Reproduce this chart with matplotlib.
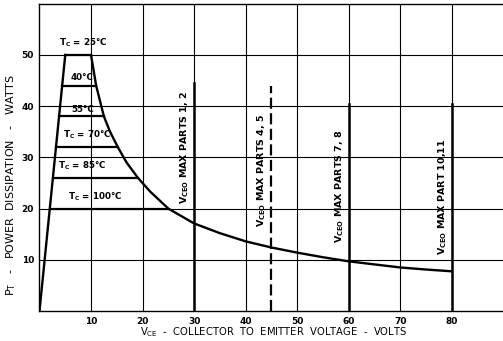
import matplotlib
matplotlib.use("Agg")
import matplotlib.pyplot as plt

# safe operating area
ramp_v = [0, 5]
ramp_p = [0, 50]
curve_v = [10, 11, 12.5, 13.7, 15.2, 16.9, 19.1, 21.5, 25, 30, 35, 40, 45, 50, 55, 60, 65, 70, 75, 80]
curve_p = [50, 44, 38, 35, 32, 29, 26, 23.3, 20, 17.1, 15.2, 13.6, 12.4, 11.4, 10.5, 9.7, 9.1, 8.5, 8.1, 7.75]

# case temperature steps
tc_labels = ["T$_\\mathregular{C}$ = 25°C", "40°C", "55°C", "T$_\\mathregular{C}$ = 70°C",
             "T$_\\mathregular{C}$ = 85°C", "T$_\\mathregular{C}$ = 100°C"]
tc_p = [50, 44, 38, 32, 26, 20]
tc_vleft = [5, 4.4, 3.8, 3.2, 2.6, 2.0]
tc_vright = [10, 11, 12.5, 15.2, 19.1, 25]
tc_label_x = [8.5, 8.2, 8.3, 9.3, 8.4, 10.9]
tc_label_y = [52.3, 45.6, 39.4, 34.4, 28.3, 22.3]

# VCEO limits
vceo_v = [30, 45, 60, 80]
vceo_top = [44.5, 44, 40.5, 40.5]
vceo_style = ["-", "--", "-", "-"]
vceo_text = ["V$_\\mathregular{CEO}$ MAX PARTS 1, 2", "V$_\\mathregular{CEO}$ MAX PARTS 4, 5",
             "V$_\\mathregular{CEO}$ MAX PARTS 7, 8", "V$_\\mathregular{CEO}$ MAX PART 10,11"]
vceo_tx = [28.2, 43.2, 58.3, 78.3]
vceo_ty = [32, 27.5, 24.4, 22.3]

xticks = [10, 20, 30, 40, 50, 60, 70, 80]
yticks = [10, 20, 30, 40, 50]

plt.rcParams['font.family'] = ['DejaVu Sans']
plt.rcParams['font.weight'] = 'bold'
fig = plt.figure(figsize=(5.03, 3.41), dpi=100)
ax = fig.add_axes([0.0785, 0.088, 0.922, 0.901])
ax.set_xlim(0, 90)
ax.set_ylim(0, 60)

for x in xticks:
    ax.axvline(x, color='black', lw=0.8, zorder=1)
for y in yticks:
    ax.axhline(y, color='black', lw=0.8, zorder=1)

ax.plot(ramp_v, ramp_p, color='black', lw=1.7, zorder=3)
ax.plot(curve_v, curve_p, color='black', lw=1.7, zorder=3)
for p, a, b in zip(tc_p, tc_vleft, tc_vright):
    ax.plot([a, b], [p, p], color='black', lw=1.6, zorder=3)
for t, x, y in zip(tc_labels, tc_label_x, tc_label_y):
    ax.text(x, y, t, fontsize=6.3, ha='center', va='center')

for x, top, ls, t, tx, ty in zip(vceo_v, vceo_top, vceo_style, vceo_text, vceo_tx, vceo_ty):
    if ls == "--":
        ax.plot([x, x], [0, top], color='black', lw=1.6, dashes=(5, 2), zorder=2)
    else:
        ax.plot([x, x], [0, top], color='black', lw=1.8, zorder=2)
    ax.text(tx, ty, t, fontsize=6.8, rotation=90, ha='center', va='center')

ax.set_xticks(xticks)
ax.set_yticks(yticks)
ax.tick_params(length=0, labelsize=6.5, pad=4)
ax.spines['right'].set_visible(False)
for s in ['left', 'top', 'bottom']:
    ax.spines[s].set_linewidth(1.0)

ax.set_xlabel("V$_\\mathregular{CE}$  -  COLLECTOR  TO  EMITTER  VOLTAGE  -  VOLTS", fontsize=7.2)
ax.xaxis.set_label_coords(0.505, -0.045)
ax.set_ylabel("P$_\\mathregular{T}$   -   POWER  DISSIPATION   -   WATTS", fontsize=8)
ax.yaxis.set_label_coords(-0.047, 0.41)

fig.savefig("out.png", dpi=100)
